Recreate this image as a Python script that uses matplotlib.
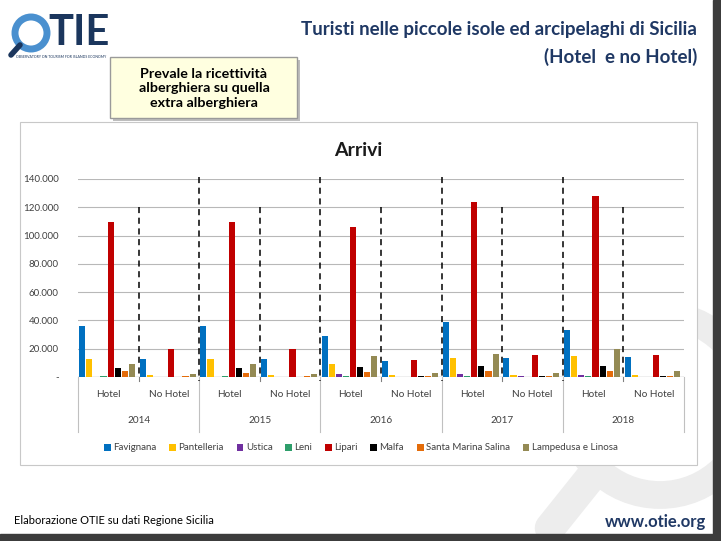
import numpy as np
import matplotlib
matplotlib.use('Agg')
import matplotlib.pyplot as plt
from matplotlib.patches import Rectangle, Ellipse, FancyBboxPatch, Patch
from matplotlib.lines import Line2D

plt.rcParams['font.family'] = ['Lato', 'DejaVu Sans']

# dati (arrivi) - ordine: 2014 Hotel, 2014 No Hotel, 2015 Hotel, ...
anni = ['2014', '2015', '2016', '2017', '2018']
tipi = ['Hotel', 'No Hotel']
isole = ['Favignana', 'Pantelleria', 'Ustica', 'Leni', 'Lipari', 'Malfa',
         'Santa Marina Salina', 'Lampedusa e Linosa']
colori = ['#0070C0', '#FFC000', '#7030A0', '#2E9E6B', '#C00000', '#000000',
          '#E46C0A', '#948A54']

favignana = [36000, 12900, 36000, 12900, 28800, 11300, 38800, 13700, 33300, 14200]
pantelleria = [13000, 1600, 13000, 1500, 9000, 1200, 13500, 1200, 15000, 1200]
ustica = [300, 0, 200, 0, 2300, 0, 2300, 400, 1500, 200]
leni = [1000, 0, 600, 0, 700, 0, 1000, 0, 800, 0]
lipari = [109500, 20000, 109500, 20000, 106000, 12000, 123500, 15600, 127800, 15600]
malfa = [6400, 300, 6400, 300, 7100, 1000, 7800, 900, 8000, 900]
salina = [4500, 800, 2600, 500, 3800, 500, 4000, 800, 4000, 800]
lampedusa = [9500, 2000, 9500, 1900, 14900, 3000, 16300, 3000, 19600, 4000]
serie = [favignana, pantelleria, ustica, leni, lipari, malfa, salina, lampedusa]

W, H = 721, 541
fig = plt.figure(figsize=(W / 100, H / 100), dpi=100)
fig.patch.set_facecolor('white')


def fx(px):
    return px / W


def fy(py):
    return 1 - py / H


# filigrana lente (grigio chiaro)
fig.add_artist(Ellipse((fx(660), fy(405)), 180 / W, 180 / H, transform=fig.transFigure,
                       fill=False, edgecolor='#EDEDED', lw=20, zorder=0))
fig.add_artist(Line2D([fx(590), fx(550)], [fy(478), fy(528)], transform=fig.transFigure,
                      color='#EDEDED', lw=22, solid_capstyle='round', zorder=0))

# riquadro grafico
fig.add_artist(Rectangle((fx(20), fy(465)), (697 - 20) / W, (465 - 122) / H,
                         transform=fig.transFigure, facecolor='white',
                         edgecolor='#C8C8C8', lw=0.8, zorder=1))

# bordi scuri della slide
fig.add_artist(Rectangle((fx(713), 0), 1 - fx(713), 1, transform=fig.transFigure,
                         color='#3C3C3C', zorder=5))
fig.add_artist(Rectangle((0, 0), 1, fy(534), transform=fig.transFigure,
                         color='#3C3C3C', zorder=5))

# logo OTIE
fig.add_artist(Ellipse((fx(31), fy(33)), 32 / W, 32 / H, transform=fig.transFigure,
                       fill=False, edgecolor='#4A90CF', lw=5, zorder=3))
fig.add_artist(Line2D([fx(20), fx(11)], [fy(45), fy(55)], transform=fig.transFigure,
                      color='#1B365D', lw=4, solid_capstyle='round', zorder=3))
fig.text(fx(48), fy(33), 'TIE', fontsize=30, fontweight='bold', color='#1B365D',
         ha='left', va='center', zorder=3)
fig.text(fx(16), fy(57), 'OBSERVATORY ON TOURISM FOR ISLANDS ECONOMY', fontsize=2.5,
         color='#1B365D', ha='left', va='center')

# titolo
fig.text(fx(697), fy(29), 'Turisti nelle piccole isole ed arcipelaghi di Sicilia',
         fontsize=13.5, fontweight='bold', color='#1F3864', ha='right', va='center')
fig.text(fx(697), fy(57), '(Hotel  e no Hotel)',
         fontsize=13.5, fontweight='bold', color='#1F3864', ha='right', va='center')

# box commento (con ombra)
fig.add_artist(Rectangle((fx(113), fy(121)), (297 - 110) / W, (118 - 57) / H,
                         transform=fig.transFigure, facecolor='#BDBDBD',
                         edgecolor='none', zorder=2))
fig.add_artist(FancyBboxPatch((fx(110), fy(118)), (297 - 110) / W, (118 - 57) / H,
                              boxstyle='square,pad=0', transform=fig.transFigure,
                              facecolor='#FFFFE0', edgecolor='#9A9A9A', lw=1.0, zorder=3))
fig.text(fx(204), fy(88), 'Prevale la ricettività\nalberghiera su quella\nextra alberghiera',
         fontsize=10.3, fontweight='bold', color='black', ha='center', va='center',
         linespacing=1.25, zorder=4)

# titolo grafico
fig.text(fx(358), fy(150), 'Arrivi', fontsize=14, fontweight='bold', color='#1A1A1A',
         ha='center', va='center', zorder=3)

# assi
ax = fig.add_axes([fx(78), fy(377), (684 - 78) / W, (377 - 179) / H], zorder=2)
ax.set_facecolor('none')
x = np.arange(len(anni) * len(tipi))
n = len(serie)
step = 0.94 / n
for j, (vals, col) in enumerate(zip(serie, colori)):
    ax.bar(x + (j - (n - 1) / 2) * step - 0.02, vals, width=step * 0.86, color=col,
           zorder=3, label=isole[j])

ax.set_xlim(-0.5, 9.5)
ax.set_ylim(0, 140000)
yt = np.arange(0, 140001, 20000)
ax.set_yticks(yt)
ax.set_yticklabels(['-'] + [f'{v:,}'.replace(',', '.') for v in yt[1:]])
ax.tick_params(axis='y', length=0, pad=14, labelsize=7, colors='#404040')
ax.set_xticks([])
for s in ax.spines.values():
    s.set_visible(False)
ax.yaxis.grid(True, color='#B8B8B8', lw=0.8)
ax.set_axisbelow(True)
ax.axhline(0, color='#C0C0C0', lw=1, zorder=2)

# asse categorie a tabella
tr = ax.get_xaxis_transform()
for b in [-0.5, 1.5, 3.5, 5.5, 7.5, 9.5]:
    ax.plot([b, b], [0, -0.28], transform=tr, clip_on=False, color='#C0C0C0', lw=0.8)
for b in [0.5, 2.5, 4.5, 6.5, 8.5]:
    ax.plot([b, b], [0, -0.02], transform=tr, clip_on=False, color='#808080', lw=0.8)
for i in x:
    ax.text(i, -0.09, tipi[i % 2], transform=tr, ha='center', va='center', fontsize=7.2,
            color='#404040')
for k, a in enumerate(anni):
    ax.text(2 * k + 0.5, -0.22, a, transform=tr, ha='center', va='center', fontsize=7.2,
            color='#404040')

# linee tratteggiate di separazione
for b in [1.5, 3.5, 5.5, 7.5]:
    ax.plot([b, b], [141500, -3000], ls=(0, (4, 3)), color='black', lw=1.1,
            clip_on=False, zorder=4)
for b in [0.5, 2.5, 4.5, 6.5, 8.5]:
    ax.plot([b, b], [120000, 0], ls=(0, (4, 3)), color='black', lw=1.1,
            clip_on=False, zorder=4)

# legenda
handles = [Patch(facecolor=c, edgecolor='none') for c in colori]
fig.legend(handles, isole, loc='center', bbox_to_anchor=(fx(361), fy(448)), ncol=8,
           frameon=False, fontsize=7, handlelength=0.7, handleheight=0.7,
           handletextpad=0.25, columnspacing=1.3, labelcolor='#404040')

# piè di pagina
fig.text(fx(14), fy(521), 'Elaborazione OTIE su dati Regione Sicilia', fontsize=8,
         color='black', ha='left', va='center')
fig.text(fx(706), fy(522), 'www.otie.org', fontsize=12, fontweight='bold',
         color='#1F3864', ha='right', va='center', zorder=6)

fig.savefig('out.png', dpi=100)
